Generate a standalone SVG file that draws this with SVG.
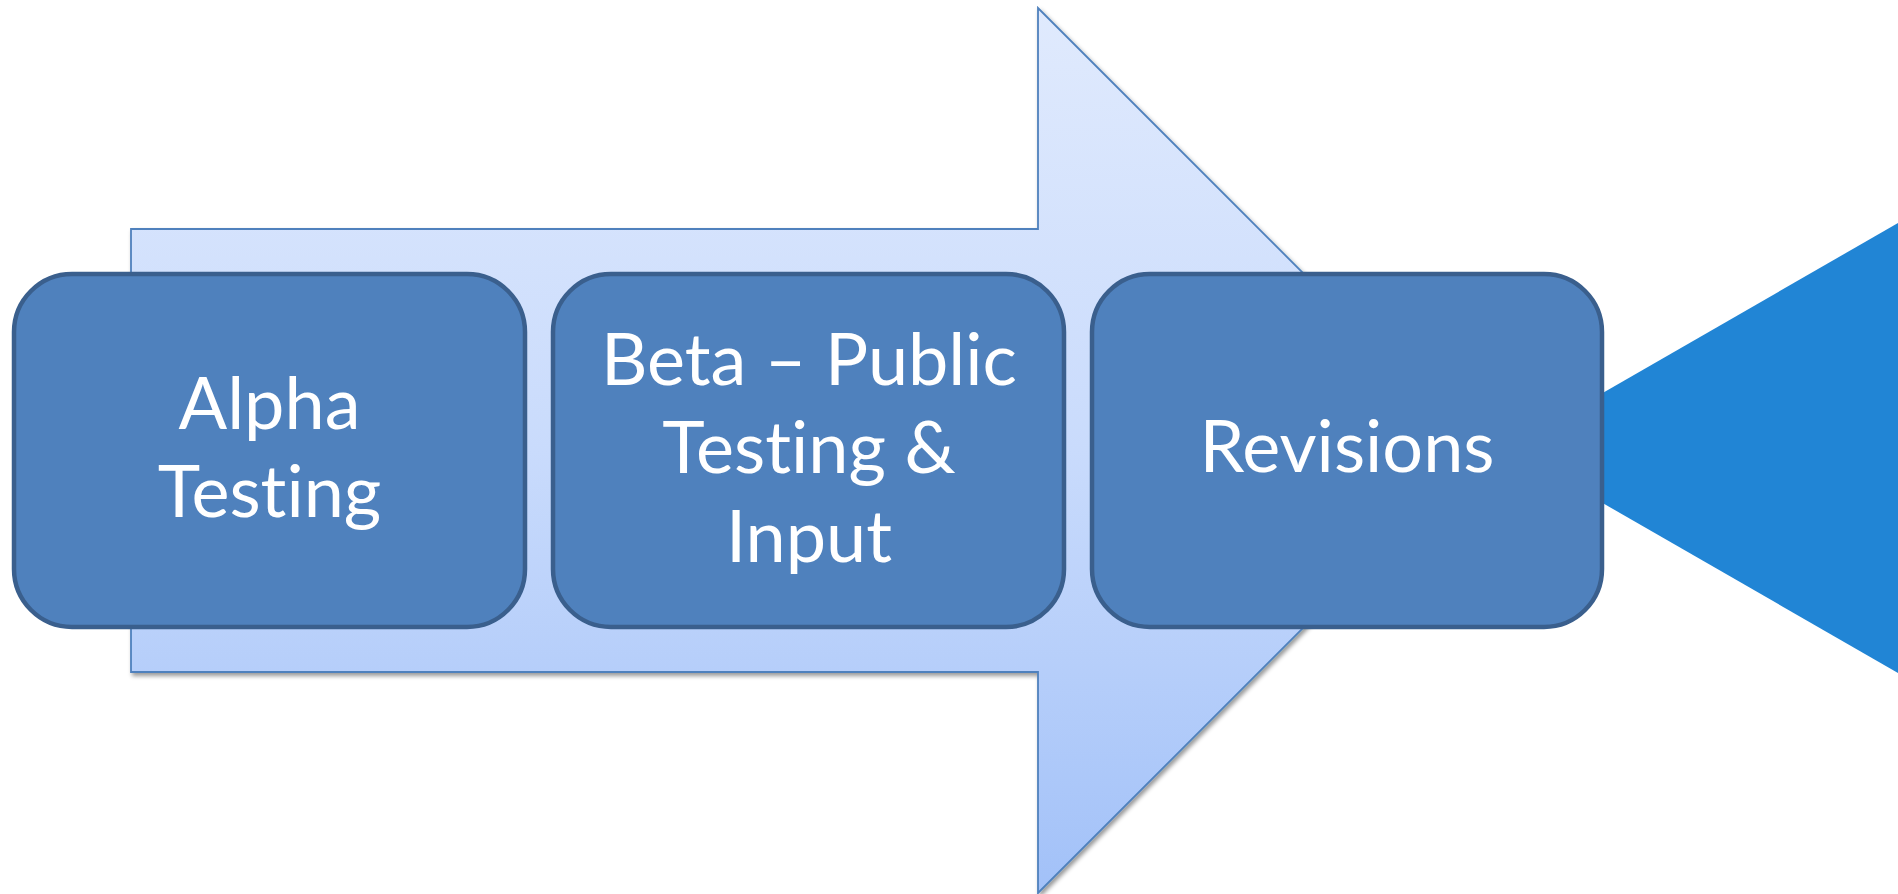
<svg xmlns="http://www.w3.org/2000/svg" width="1898" height="894" viewBox="0 0 1898 894">
  <defs>
    <linearGradient id="arrowGrad" x1="0" y1="8" x2="0" y2="893" gradientUnits="userSpaceOnUse">
      <stop offset="0" stop-color="#E0EAFD"/>
      <stop offset="0.5" stop-color="#C9DBFC"/>
      <stop offset="1" stop-color="#A2C1F8"/>
    </linearGradient>
    <filter id="shadow" x="-5%" y="-5%" width="110%" height="110%">
      <feDropShadow dx="2" dy="3" stdDeviation="2" flood-color="#000" flood-opacity="0.4"/>
    </filter>
  </defs>
  <style>
    .box { fill: #4F81BD; stroke: #3A5F8D; stroke-width: 4.5; }
    .lbl { font-family: Lato, "Open Sans", "Liberation Sans", sans-serif; font-size: 72px; fill: #FFFFFF; text-anchor: middle; font-variant-ligatures: none; font-feature-settings: "liga" 0, "clig" 0; }
  </style>
  <rect width="1898" height="894" fill="#FFFFFF"/>
  <g id="connectors">
    <path id="big-arrow" d="M131,229 L1038,229 L1038,8 L1480.5,450.5 L1038,893 L1038,672 L131,672 Z" fill="url(#arrowGrad)" stroke="#4F81BD" stroke-width="1.8" filter="url(#shadow)"/>
    <path id="triangle" d="M1507,448 L1898,223 L1898,673 Z" fill="#2185D5"/>
  </g>
  <g id="node-alpha">
    <rect class="box" x="14" y="274" width="511" height="353" rx="58" ry="58"/>
    <text class="lbl" x="269.5" y="429">Alpha</text>
    <text class="lbl" x="269.5" y="517">Testing</text>
  </g>
  <g id="node-beta">
    <rect class="box" x="553" y="274" width="511" height="353" rx="58" ry="58"/>
    <text class="lbl" x="809" y="385">Beta – Public</text>
    <text class="lbl" x="809" y="473">Testing &amp;</text>
    <text class="lbl" x="809" y="562">Input</text>
  </g>
  <g id="node-revisions">
    <rect class="box" x="1092" y="274" width="510" height="353" rx="58" ry="58"/>
    <text class="lbl" x="1347" y="472">Revisions</text>
  </g>
</svg>
